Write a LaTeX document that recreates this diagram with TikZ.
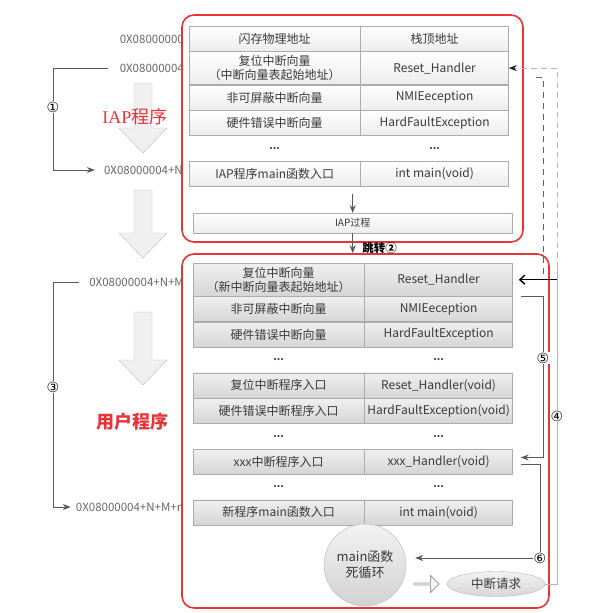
\documentclass[tikz,border=0pt]{standalone}
\usepackage{fontspec}
\setmainfont{Noto Sans CJK SC}
\newfontfamily\latinserif{Liberation Serif}
\newfontfamily\symfont{DejaVu Sans}
\usetikzlibrary{positioning, arrows.meta, shapes.geometric, shapes.arrows}
\definecolor{boxred}{RGB}{230,52,56}
\definecolor{celltext}{RGB}{58,58,58}
\tikzset{
  % table cells
  cell/.style={
    draw=gray!65, text=celltext, align=center,
    font=\fontsize{12}{14}\selectfont,
    inner sep=1pt, minimum height=25pt
  },
  iapcell/.style={cell, top color=white, bottom color=gray!15},
  appcell/.style={cell, top color=gray!12, bottom color=gray!33},
  lcol/.style={minimum width=171pt},
  rcol/.style={minimum width=148pt},
  tall/.style={minimum height=33pt},
  gapcell/.style={
    minimum width=171pt, minimum height=25pt, inner sep=0pt,
    font=\fontsize{10}{10}\selectfont\bfseries, text=celltext
  },
  % program areas
  redbox/.style={draw=boxred, line width=1.6pt, rounded corners=12pt, inner sep=0pt},
  redtitle/.style={text=boxred, font=\fontsize{18}{20}\selectfont},
  addr/.style={anchor=east, inner sep=0pt, text=gray!80!black,
    font=\fontsize{11.5}{13}\selectfont},
  num/.style={fill=white, inner sep=0.4pt, text=black,
    font=\symfont\fontsize{14}{14}\selectfont},
  % connectors
  link/.style={draw=gray!70!black, line width=0.8pt},
  tip/.style={-{Stealth[length=8pt, width=6pt]}},
  faintdash/.style={draw=gray!55, line width=1pt, dash pattern=on 6pt off 4pt},
  darkdash/.style={draw=gray!75!black, line width=1pt, dash pattern=on 6pt off 5pt},
  hardarrow/.style={draw=black, line width=1.4pt,
    -{Straight Barb[length=5pt, width=9pt]}, shorten >=6pt},
  bigarrow/.style={draw=gray!50, fill=gray!12},
}
% hollow down arrow: centre x, top y, tip y
\newcommand{\bigdown}[3]{%
  \draw[bigarrow] (#1-9,#2) -- (#1+9,#2) -- (#1+9,#3-25) -- (#1+24,#3-25)
    -- (#1,#3) -- (#1-24,#3-25) -- (#1-9,#3-25) -- cycle;
}

\begin{document}
\begin{tikzpicture}[x=1pt, y=-1pt]
  \useasboundingbox (0,0) rectangle (603,613);

  %% ── Addresses ──
  \node[addr] (addrA) at (184,39)  {0X08000000};
  \node[addr] (addrB) at (184,68)  {0X08000004};
  \node[addr] (addrC) at (183,170) {0X08000004+N};
  \node[addr] (addrD) at (184,282) {0X08000004+N+M};
  \node[addr] (addrE) at (184,507) {0X08000004+N+M+n};

  %% ── Flow arrows on the left ──
  \bigdown{143}{83}{153}
  \bigdown{143}{190}{258}
  \bigdown{143}{312}{385}
  \node[redtitle] (iapTitle) at (135,117) {{\latinserif IAP}程序};
  \node[redtitle, font=\fontsize{18}{20}\selectfont\bfseries] (appTitle) at (132,422) {用户程序};

  \node[num] (n1) at (53,107) {①};
  \node[num] (n3) at (53,387) {③};
  \draw[link] ([xshift=-12pt]addrB.west) -| (n1);
  \draw[link, tip] (n1) |- ([xshift=-9pt]addrC.west);
  \draw[link] ([xshift=-10pt]addrD.west) -| (n3);
  \draw[link, tip] (n3) |- ([xshift=-5pt]addrE.west);

  %% ── IAP program ──
  \node[iapcell, lcol, anchor=north west] (iapAddrL) at (189,26) {闪存物理地址};
  \node[iapcell, rcol, right=0pt of iapAddrL] (iapSp) {栈顶地址};
  \node[iapcell, lcol, tall, below=0pt of iapAddrL] (iapRstL) {复位中断向量\\（中断向量表起始地址）};
  \node[iapcell, rcol, tall, right=0pt of iapRstL] (iapRst) {Reset\_Handler};
  \node[iapcell, lcol, below=0pt of iapRstL] (iapNmiL) {非可屏蔽中断向量};
  \node[iapcell, rcol, right=0pt of iapNmiL] (iapNmi) {NMIEeception};
  \node[iapcell, lcol, below=0pt of iapNmiL] (iapHfL) {硬件错误中断向量};
  \node[iapcell, rcol, right=0pt of iapHfL] (iapHf) {HardFaultException};
  \node[gapcell, below=0pt of iapHfL] (iapGapL) {...};
  \node[gapcell, rcol, right=0pt of iapGapL] (iapGapR) {...};
  \node[iapcell, lcol, below=0pt of iapGapL] (iapMainL) {IAP程序main函数入口};
  \node[iapcell, rcol, right=0pt of iapMainL] (iapMain) {int main(void)};
  \node[iapcell, minimum width=319pt, minimum height=20pt, anchor=north west,
        font=\fontsize{10}{12}\selectfont] (iapProc) at (193,213) {IAP过程};

  %% ── User program ──
  \node[appcell, lcol, tall, anchor=north west] (appRstL) at (193,263) {复位中断向量\\（新中断向量表起始地址）};
  \node[appcell, rcol, tall, right=0pt of appRstL] (appRst) {Reset\_Handler};
  \node[appcell, lcol, below=0pt of appRstL] (appNmiL) {非可屏蔽中断向量};
  \node[appcell, rcol, right=0pt of appNmiL] (appNmi) {NMIEeception};
  \node[appcell, lcol, below=0pt of appNmiL] (appHfL) {硬件错误中断向量};
  \node[appcell, rcol, right=0pt of appHfL] (appHf) {HardFaultException};
  \node[gapcell, below=0pt of appHfL] (appGapL) {...};
  \node[gapcell, rcol, right=0pt of appGapL] (appGapR) {...};
  \node[appcell, lcol, below=0pt of appGapL] (appRstFnL) {复位中断程序入口};
  \node[appcell, rcol, right=0pt of appRstFnL] (appRstFn) {Reset\_Handler(void)};
  \node[appcell, lcol, below=0pt of appRstFnL] (appHfFnL) {硬件错误中断程序入口};
  \node[appcell, rcol, right=0pt of appHfFnL] (appHfFn) {HardFaultException(void)};
  \node[gapcell, below=0pt of appHfFnL] (appGap2L) {...};
  \node[gapcell, rcol, right=0pt of appGap2L] (appGap2R) {...};
  \node[appcell, lcol, below=0pt of appGap2L] (appXxxL) {xxx中断程序入口};
  \node[appcell, rcol, right=0pt of appXxxL] (appXxx) {xxx\_Handler(void)};
  \node[gapcell, below=0pt of appXxxL] (appGap3L) {...};
  \node[gapcell, rcol, right=0pt of appGap3L] (appGap3R) {...};
  \node[appcell, lcol, below=0pt of appGap3L] (appMainL) {新程序main函数入口};
  \node[appcell, rcol, right=0pt of appMainL] (appMain) {int main(void)};

  \node[circle, draw=gray!55, top color=gray!10, bottom color=gray!35,
        minimum size=82pt, inner sep=0pt, align=center, text=celltext,
        font=\fontsize{13}{16}\selectfont] (loop) at (365,565) {main函数\\死循环};
  \node[ellipse, draw=gray!55, top color=gray!10, bottom color=gray!32,
        minimum width=98pt, minimum height=25pt, inner sep=0pt, text=celltext,
        font=\fontsize{12.5}{14}\selectfont] (irq) at (496,584) {中断请求};
  \node[single arrow, draw=gray!75, line width=0.8pt, fill=gray!10, minimum width=17pt,
        minimum height=25pt, single arrow head extend=3pt, inner sep=0pt] (toIrq) at (426,584) {};

  %% ── Red program areas ──
  \node[redbox, minimum width=341pt, minimum height=227pt] (iapBox) at (352.5,128.5) {};
  \node[redbox, minimum width=367pt, minimum height=354pt] (appBox) at (365.5,431) {};

  %% ── IAP flow ──
  \draw[link, tip, shorten <=8pt] (iapProc.north |- iapMainL.south) -- (iapProc.north);
  \draw[link, tip] (iapProc.south) -- (iapProc.south |- appBox.north)
    node[pos=0.75, anchor=west, xshift=6pt, text=black,
         font=\fontsize{11.5}{13}\selectfont\bfseries] {跳转②};

  %% ── Interrupt path ──
  \coordinate (busOut) at (557,0);
  \coordinate (busIn) at (543,0);
  \coordinate (dashSplit) at (557,268);
  \coordinate (dashStart) at (536,77);
  \node[num] (n4) at (557,416) {④};
  \node[num] (n5) at (543,358) {⑤};
  \node[num] (n6) at (540,558) {⑥};

  % ④
  \draw[link, draw=gray!60] (irq.east) -| (n4);
  \draw[link, draw=gray!60] (n4) -- (dashSplit);
  \draw[faintdash, -{Stealth[length=8pt, width=6pt, color=gray!25!black]}] (dashSplit) |- (iapRst.east);
  \draw[darkdash] (dashStart) -| (appRst.east -| busIn);
  \draw[hardarrow] (appRst.east -| busOut) -- (appRst.east);

  % ⑤
  \draw[link] ([xshift=8pt]appRst.south east) -| (n5);
  \draw[link, tip, shorten >=8pt] (n5) |- ([yshift=4pt]appXxx.east);

  % ⑥
  \draw[link] ([xshift=8pt, yshift=-3pt]appXxx.east) -| (n6);
  \draw[link, tip, shorten >=9pt] (n6) -- (n6 -| loop.east);

\end{tikzpicture}
\end{document}
